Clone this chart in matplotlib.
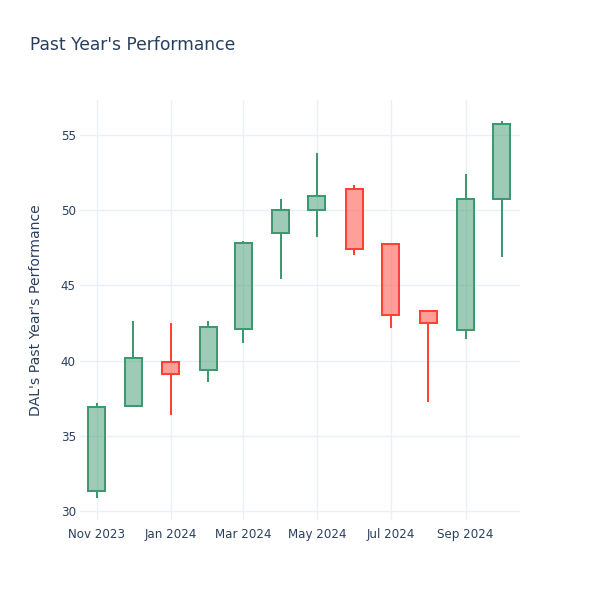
import matplotlib
matplotlib.use("Agg")
import matplotlib.pyplot as plt
import matplotlib.dates as mdates
import numpy as np
import pandas as pd

# monthly candles for DAL
dates = pd.to_datetime(["2023-11-01", "2023-12-01", "2024-01-01", "2024-02-01",
                        "2024-03-01", "2024-04-01", "2024-05-01", "2024-06-01",
                        "2024-07-01", "2024-08-01", "2024-09-01", "2024-10-01"])
opens = [31.35, 37.0, 39.93, 39.38, 42.12, 48.46, 50.0, 51.41, 47.75, 43.3, 42.03, 50.74]
highs = [37.16, 42.65, 42.48, 42.65, 47.97, 50.72, 53.82, 51.65, 47.78, 43.32, 52.41, 55.93]
lows = [30.84, 36.98, 36.36, 38.6, 41.15, 45.43, 48.24, 47.02, 42.15, 37.27, 41.46, 46.89]
closes = [36.9, 40.2, 39.1, 42.21, 47.8, 50.0, 50.94, 47.42, 43.0, 42.5, 50.72, 55.71]

tick_dates = pd.to_datetime(["2023-11-01", "2024-01-01", "2024-03-01",
                             "2024-05-01", "2024-07-01", "2024-09-01"])
yticks = [30, 35, 40, 45, 50, 55]

txt = "#2a3f5f"
grid = "#EBF0F8"
up = "#3D9970"
down = "#FF4136"

plt.rcParams['font.family'] = ['DejaVu Sans']

fig = plt.figure(figsize=(6, 6), dpi=100)
ax = fig.add_axes([80 / 600, 80 / 600, 440 / 600, 420 / 600])

x = mdates.date2num(dates)
body_w = 14
for xi, o, h, l, c in zip(x, opens, highs, lows, closes):
    col = up if c >= o else down
    top, bot = max(o, c), min(o, c)
    ax.plot([xi, xi], [top, h], color=col, lw=1.45, solid_capstyle="butt", zorder=2)
    ax.plot([xi, xi], [l, bot], color=col, lw=1.45, solid_capstyle="butt", zorder=2)
    ax.bar(xi, top - bot, bottom=bot, width=body_w, facecolor=col, alpha=0.5,
           edgecolor="none", zorder=3)
    ax.bar(xi, top - bot, bottom=bot, width=body_w, facecolor="none",
           edgecolor=col, linewidth=1.45, zorder=4)

ax.set_xlim(mdates.date2num(pd.Timestamp("2023-10-18")),
            mdates.date2num(pd.Timestamp("2024-10-16")))
ax.set_ylim(29.4, 57.33)

ax.set_xticks(mdates.date2num(tick_dates))
ax.xaxis.set_major_formatter(mdates.DateFormatter("%b %Y"))
ax.set_yticks(yticks)

for s in ax.spines.values():
    s.set_visible(False)
ax.grid(True, color=grid, lw=1)
ax.set_axisbelow(True)
ax.tick_params(length=0, colors=txt, labelsize=8.6)
ax.tick_params(axis="x", pad=6)
ax.tick_params(axis="y", pad=3)

ax.set_ylabel("DAL's Past Year's Performance", color=txt, fontsize=10.1, labelpad=13)
fig.text(30 / 600, 1 - 45 / 600, "Past Year's Performance", color=txt,
         fontsize=12.3, va="center", ha="left")

fig.savefig("out.png", dpi=100, facecolor="white")
